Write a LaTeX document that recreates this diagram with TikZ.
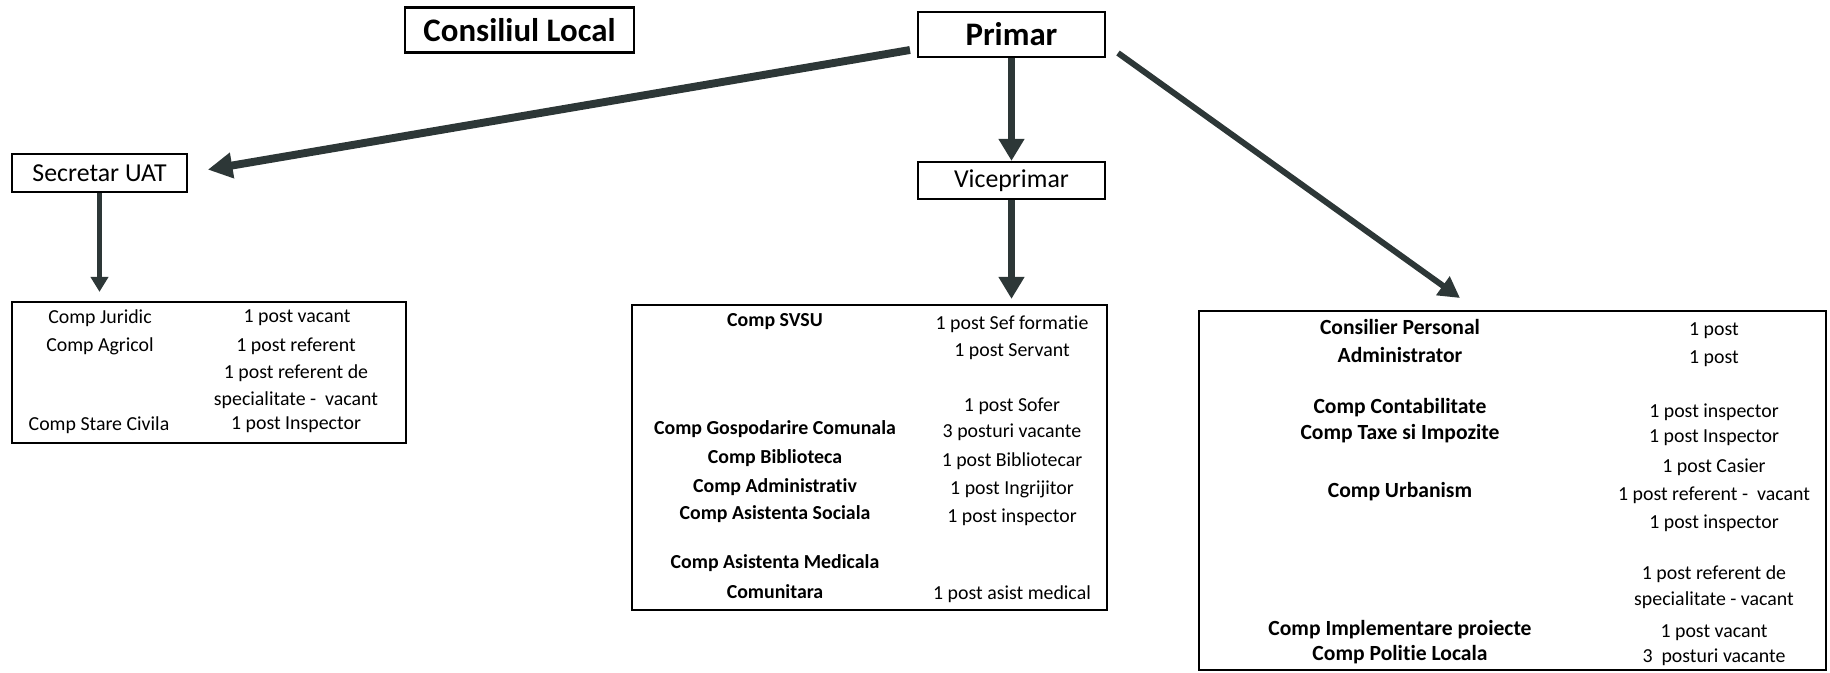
\documentclass[tikz,border=0pt]{standalone}
\usepackage{fontspec}
\setmainfont{Carlito}[RawFeature={-liga}]
\usetikzlibrary{arrows.meta}
\definecolor{arrowgray}{RGB}{45,55,55}

\begin{document}
\begin{tikzpicture}[x=0.02cm, y=-0.02cm,
    box/.style={draw, line width=1.3pt, inner sep=0pt},
    row/.style={inner sep=0pt, font=\fontsize{11.3}{13}\selectfont},
    bold row/.style={inner sep=0pt, font=\fontsize{11.3}{13}\selectfont\bfseries},
    big row/.style={inner sep=0pt, font=\fontsize{12.3}{14}\selectfont\bfseries},
    arr/.style={draw=arrowgray, fill=arrowgray}]
    \useasboundingbox (0,0) rectangle (1830,673);

    % top level
    \node[box, minimum width=4.58cm, minimum height=0.9cm, font=\fontsize{18.7}{22}\selectfont\bfseries] (consiliu) at (519.5,30) {Consiliul Local};
    \node[box, minimum width=3.74cm, minimum height=0.9cm, font=\fontsize{18.7}{22}\selectfont\bfseries] (primar) at (1011.5,34.5) {Primar};
    \node[box, minimum width=3.5cm, minimum height=0.76cm, font=\fontsize{14.7}{17}\selectfont] (secretar) at (99.5,173) {Secretar UAT};
    \node[box, minimum width=3.74cm, minimum height=0.74cm, font=\fontsize{14.7}{17}\selectfont] (viceprimar) at (1011.5,180.5) {Viceprimar};

    % departments
    \node[box, minimum width=7.88cm, minimum height=2.82cm] (leftbox) at (209,372.5) {};
    \node[box, minimum width=9.5cm, minimum height=6.1cm] (midbox) at (869.5,457.5) {};
    \node[box, minimum width=12.54cm, minimum height=7.18cm] (rightbox) at (1512.5,490.5) {};

    % left box
    \node[row] (juridic) at (100,318) {Comp Juridic};
    \node[row] (juridicp) at (297,318) {1 post vacant};
    \node[row] (agricol) at (100,346) {Comp Agricol};
    \node[row] (agricolp) at (296,346) {1 post referent};
    \node[row] (refspec1) at (296,373) {1 post referent de};
    \node[row] (refspec2) at (296,400) {specialitate -\ \ vacant};
    \node[row] (civila) at (99,425) {Comp Stare Civila};
    \node[row] (civilap) at (296,425) {1 post Inspector};

    % middle box
    \node[bold row] (svsu) at (775,322) {Comp SVSU};
    \node[row] (svsup1) at (1012,324) {1 post Sef formatie};
    \node[row] (svsup2) at (1012,352) {1 post Servant};
    \node[row] (sofer) at (1012,406) {1 post Sofer};
    \node[bold row] (gosp) at (775,429) {Comp Gospodarire Comunala};
    \node[row] (gospp) at (1012,432) {3 posturi vacante};
    \node[bold row] (bibl) at (775,458) {Comp Biblioteca};
    \node[row] (biblp) at (1012,461) {1 post Bibliotecar};
    \node[bold row] (admin) at (775,487) {Comp Administrativ};
    \node[row] (adminp) at (1012,489) {1 post Ingrijitor};
    \node[bold row] (asoc) at (775,514) {Comp Asistenta Sociala};
    \node[row] (asocp) at (1012,517) {1 post inspector};
    \node[bold row] (amed1) at (775,563) {Comp Asistenta Medicala};
    \node[bold row] (amed2) at (775,592) {Comunitara};
    \node[row] (amedp) at (1012,594) {1 post asist medical};

    % right box
    \node[big row] (consilier) at (1400,327) {Consilier Personal};
    \node[row] (consilierp) at (1714,331) {1 post};
    \node[big row] (administrator) at (1400,355) {Administrator};
    \node[row] (administratorp) at (1714,359) {1 post};
    \node[big row] (contab) at (1400,408) {Comp Contabilitate};
    \node[row] (contabp) at (1714,412) {1 post inspector};
    \node[big row] (taxe) at (1400,434) {Comp Taxe si Impozite};
    \node[row] (taxep) at (1714,438) {1 post Inspector};
    \node[row] (casier) at (1714,467) {1 post Casier};
    \node[big row] (urban) at (1400,492) {Comp Urbanism};
    \node[row] (urbanp) at (1714,495) {1 post referent -\ \ vacant};
    \node[row] (urbinsp) at (1714,523) {1 post inspector};
    \node[row] (refdes1) at (1714,574) {1 post referent de};
    \node[row] (refdes2) at (1714,600) {specialitate - vacant};
    \node[big row] (impl) at (1400,630) {Comp Implementare proiecte};
    \node[row] (implp) at (1714,633) {1 post vacant};
    \node[big row] (politie) at (1400,655) {Comp Politie Locala};
    \node[row] (politiep) at (1714,657) {3\ \ posturi vacante};

    % arrows
    \coordinate (pleft) at (910,50);
    \coordinate (pright) at (1118,53);
    \coordinate (rtip) at (1460,298);
    \path[draw=arrowgray, line width=4.5pt, -{Triangle[width=14pt,length=14pt]}, shorten >=0.4cm] (pleft) -- (secretar.east);
    \path[draw=arrowgray, line width=4pt, -{Triangle[width=14pt,length=12.5pt]}] (primar.south) -- (viceprimar.north);
    \path[draw=arrowgray, line width=3.4pt, -{Triangle[width=12.5pt,length=12pt]}] (pright) -- (rtip);
    \path[draw=arrowgray, line width=2.8pt, -{Triangle[width=9.7pt,length=8.5pt]}, shorten >=0.18cm] (secretar.south) -- (secretar.south |- leftbox.north);
    \path[draw=arrowgray, line width=4pt, -{Triangle[width=14pt,length=12.5pt]}, shorten >=0.1cm] (viceprimar.south) -- (viceprimar.south |- midbox.north);
\end{tikzpicture}
\end{document}
